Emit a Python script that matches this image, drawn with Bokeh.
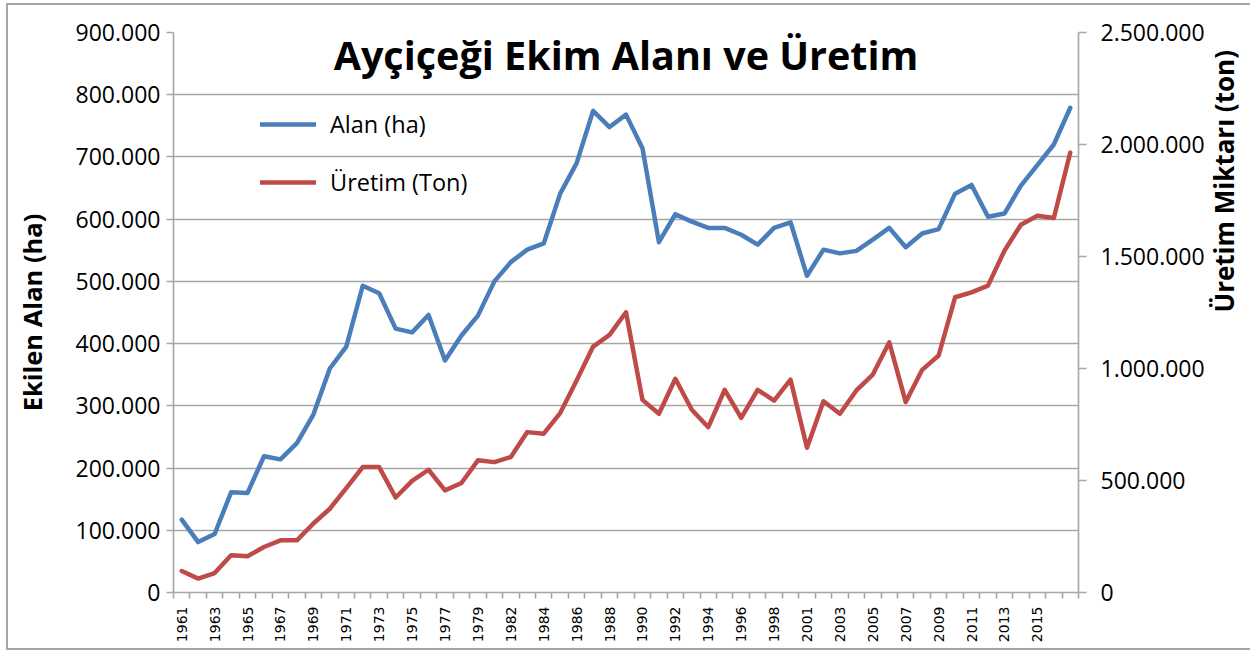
import math
from bokeh.plotting import figure
from bokeh.models import (Range1d, LinearAxis, FixedTicker, Label, Legend, LegendItem)
from bokeh.embed import file_html
from bokeh.resources import INLINE

# ---------------- data ----------------
years = (list(range(1961, 1980)) + list(range(1981, 1999)) + list(range(2000, 2018)))
alan_ha = [117000, 81000, 94000, 161000, 160000, 219000, 214000, 240000, 286000, 360000,
           395000, 493000, 481000, 424000, 418000, 446000, 373000, 413000, 445000, 500000,
           531000, 551000, 561000, 641000, 690000, 774000, 748000, 768000, 714000, 563000,
           608000, 596000, 586000, 586000, 575000, 559000, 586000, 595000, 509000, 551000,
           545000, 549000, 567000, 586000, 555000, 577000, 584000, 641000, 655000, 604000,
           609000, 654000, 687000, 720000, 779000]
uretim_ton = [96000, 62000, 87000, 166000, 162000, 203000, 233000, 233000, 308000, 374000,
              466000, 560000, 560000, 424000, 498000, 548000, 456000, 489000, 590000, 582000,
              605000, 716000, 709000, 801000, 946000, 1098000, 1150000, 1251000, 860000, 798000,
              954000, 816000, 738000, 905000, 780000, 905000, 857000, 950000, 646000, 854000,
              798000, 902000, 973000, 1117000, 850000, 994000, 1058000, 1318000, 1340000, 1370000,
              1526000, 1642000, 1682000, 1672000, 1964000]
left_ticks = [0, 100000, 200000, 300000, 400000, 500000, 600000, 700000, 800000, 900000]
right_ticks = [0, 500000, 1000000, 1500000, 2000000, 2500000]
title_text = "Ayçiçeği Ekim Alanı ve Üretim"
left_title = "Ekilen Alan (ha)"
right_title = "Üretim Miktarı (ton)"
series_names = ["Alan (ha)", "Üretim (Ton)"]


def fmt(v):
    return f"{v:,}".replace(",", ".")


x = list(range(len(years)))
n = len(years)

BLUE = "#4a7ebb"
RED = "#be4b48"
GRID = "#a6a6a6"
FONT = "Open Sans"
XFONT = "DejaVu Sans"

p = figure(width=1254, height=647, output_backend="svg", toolbar_location=None,
           x_range=Range1d(-0.5, n - 0.5), y_range=Range1d(0, 900000),
           min_border_left=165, min_border_right=184, min_border_top=27, min_border_bottom=60,
           styles={"border-top": "2px solid #a6a6a6", "border-left": "2px solid #a6a6a6",
                   "border-bottom": "2px solid #a6a6a6",
                   "margin-left": "6px", "margin-top": "3px"})
p.outline_line_color = None
p.background_fill_color = "white"
p.border_fill_color = "white"
p.extra_y_ranges = {"ton": Range1d(0, 2500000)}

# grid
p.xgrid.visible = False
p.ygrid.ticker = FixedTicker(ticks=left_ticks)
p.ygrid.grid_line_color = GRID
p.ygrid.grid_line_width = 1.6

# left axis
ya = p.yaxis[0]
ya.ticker = FixedTicker(ticks=left_ticks)
ya.major_label_overrides = {v: fmt(v) for v in left_ticks}
ya.axis_line_color = GRID
ya.axis_line_width = 1.6
ya.major_tick_line_color = GRID
ya.major_tick_line_width = 1.6
ya.major_tick_out = 7
ya.major_tick_in = 0
ya.minor_tick_line_color = None
ya.major_label_text_font = FONT
ya.major_label_text_font_size = "23px"
ya.major_label_text_color = "black"
ya.major_label_standoff = 6
ya.axis_label = left_title
ya.axis_label_text_font = FONT
ya.axis_label_text_font_size = "25.5px"
ya.axis_label_text_font_style = "bold"
ya.axis_label_text_color = "black"
ya.axis_label_standoff = 24

# right axis
ra = LinearAxis(y_range_name="ton")
ra.ticker = FixedTicker(ticks=right_ticks)
ra.major_label_overrides = {v: fmt(v) for v in right_ticks}
ra.axis_line_color = GRID
ra.axis_line_width = 1.6
ra.major_tick_line_color = GRID
ra.major_tick_line_width = 1.6
ra.major_tick_out = 8
ra.major_tick_in = 0
ra.minor_tick_line_color = None
ra.major_label_text_font = FONT
ra.major_label_text_font_size = "23px"
ra.major_label_text_color = "black"
ra.major_label_standoff = 14
ra.axis_label = right_title
ra.axis_label_orientation = math.pi / 2
ra.axis_label_text_font = FONT
ra.axis_label_text_font_size = "26px"
ra.axis_label_text_font_style = "bold"
ra.axis_label_text_color = "black"
ra.axis_label_standoff = 16
p.add_layout(ra, "right")

# bottom axis
xa = p.xaxis[0]
label_idx = [i for i in range(0, n - 1, 2)]
xa.ticker = FixedTicker(ticks=label_idx, minor_ticks=[i - 0.5 for i in range(n + 1)])
xa.major_label_overrides = {i: str(years[i]) for i in label_idx}
xa.major_label_orientation = math.pi / 2
xa.major_tick_line_color = None
xa.major_tick_out = 6
xa.minor_tick_line_color = GRID
xa.minor_tick_line_width = 1.6
xa.minor_tick_out = 6
xa.minor_tick_in = 0
xa.axis_line_color = GRID
xa.axis_line_width = 1.6
xa.major_label_text_font = XFONT
xa.major_label_text_font_size = "14px"
xa.major_label_text_color = "black"
xa.major_label_standoff = 8

# lines
r1 = p.line(x, alan_ha, line_color=BLUE, line_width=4.5, line_join="round", line_cap="round")
r2 = p.line(x, uretim_ton, y_range_name="ton", line_color=RED, line_width=4.5,
            line_join="round", line_cap="round")

legend = Legend(items=[LegendItem(label=series_names[0], renderers=[r1]),
                       LegendItem(label=series_names[1], renderers=[r2])],
                location=(87, 394), padding=0, margin=0, spacing=26,
                glyph_width=56, glyph_height=30, label_height=30, label_standoff=14,
                label_text_font=FONT, label_text_font_size="23.5px", label_text_color="black",
                background_fill_alpha=0, border_line_color=None)
p.add_layout(legend)

# title inside frame
p.add_layout(Label(x=(n - 1) / 2, y=864500, text=title_text, text_align="center",
                   text_baseline="alphabetic", text_font=FONT, text_font_size="39.5px",
                   text_font_style="bold", text_color="black"))

open("out.html", "w").write(file_html(p, INLINE))
